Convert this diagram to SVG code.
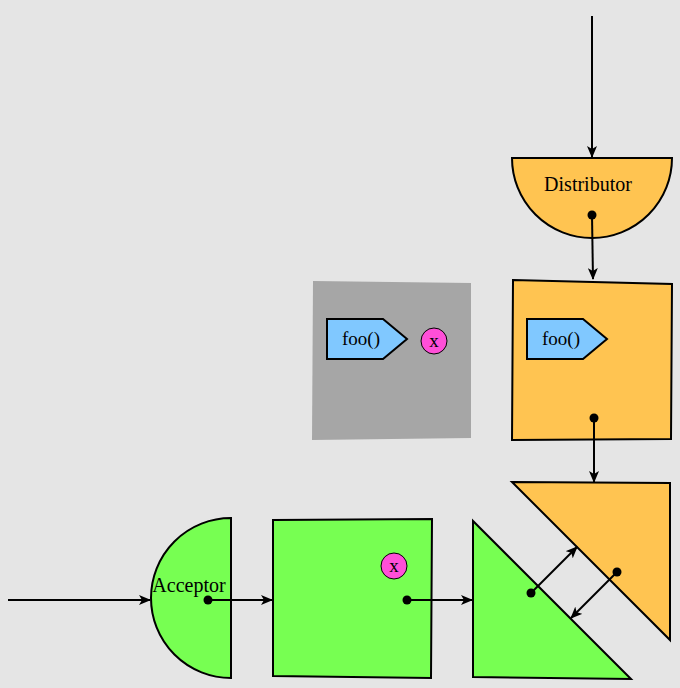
<svg xmlns="http://www.w3.org/2000/svg" width="680" height="688" viewBox="0 0 680 688">
<defs>
<style>
.shape{stroke:#000;stroke-width:2;stroke-linejoin:miter}
.orange{fill:#ffc451}
.green{fill:#77ff52}
.blue{fill:#80c8ff}
.pink{fill:#ff4fd8;stroke:#000;stroke-width:1}
.conn{stroke:#000;stroke-width:2;fill:none;marker-end:url(#arrow)}
.dot{fill:#000}
.lbl{font-family:"Liberation Serif","Times New Roman",serif;font-size:20px;fill:#000;text-anchor:middle}
.small{font-size:19px}
</style>
<marker id="arrow" viewBox="0 0 12 10" refX="11" refY="5" markerWidth="12" markerHeight="10" markerUnits="userSpaceOnUse" orient="auto">
<path d="M0,0 L12,5 L0,10 L3,5 Z" fill="#000"/>
</marker>
</defs>
<rect width="680" height="688" fill="#e5e5e5"/>

<g id="gray-box">
<polygon points="313,281 471,283 471,438 312,440" fill="#a6a6a6"/>
<polygon class="shape blue" points="327,319 383,319 407,339 383,359 327,359"/>
<text class="lbl small" x="361" y="345">foo()</text>
<circle class="pink" cx="434" cy="341" r="13"/>
<text class="lbl small" x="434" y="347">x</text>
</g>

<g id="distributor">
<path class="shape orange" d="M512,158 L672,158 A80,80 0 0 1 512,158 Z"/>
<text class="lbl" x="588" y="191">Distributor</text>
<circle class="dot" cx="592" cy="215" r="4.5"/>
</g>

<g id="orange-box">
<polygon class="shape orange" points="513,280 672,284 671,439 512,440"/>
<polygon class="shape blue" points="527,319 583,319 607,339 583,359 527,359"/>
<text class="lbl small" x="561" y="345">foo()</text>
<circle class="dot" cx="594" cy="418" r="4.5"/>
</g>

<g id="orange-triangle">
<polygon class="shape orange" points="512,482 670,483 670,640"/>
<circle class="dot" cx="617" cy="572" r="4.5"/>
</g>

<g id="acceptor">
<path class="shape green" d="M231,518 L231,678 A80,80 0 0 1 231,518 Z"/>
<text class="lbl" x="189" y="592">Acceptor</text>
<circle class="dot" cx="208" cy="600" r="4.5"/>
</g>

<g id="green-box">
<polygon class="shape green" points="273,520 432,519 431,678 273,676"/>
<circle class="pink" cx="394" cy="566" r="13"/>
<text class="lbl small" x="394" y="572">x</text>
<circle class="dot" cx="407" cy="600" r="4.5"/>
</g>

<g id="green-triangle">
<polygon class="shape green" points="473,521 473,677 631,679"/>
<circle class="dot" cx="531" cy="593" r="4.5"/>
</g>

<g id="connectors">
<line class="conn" x1="592" y1="16" x2="592" y2="157"/>
<line class="conn" x1="592" y1="215" x2="593" y2="279"/>
<line class="conn" x1="594" y1="418" x2="594" y2="482"/>
<line class="conn" x1="531" y1="593" x2="577" y2="547"/>
<line class="conn" x1="617" y1="572" x2="571" y2="618"/>
<line class="conn" x1="8" y1="600" x2="150" y2="600"/>
<line class="conn" x1="208" y1="600" x2="272" y2="600"/>
<line class="conn" x1="407" y1="600" x2="472" y2="600"/>
</g>
</svg>
